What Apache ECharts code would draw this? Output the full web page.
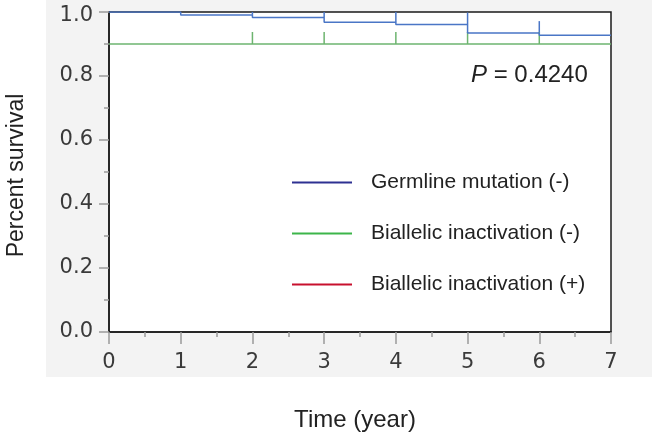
<!DOCTYPE html>
<html>
<head>
<meta charset="utf-8">
<script src="https://cdn.jsdelivr.net/npm/echarts@6/dist/echarts.min.js"></script>
<style>html,body{margin:0;padding:0;background:#fff}#c{width:652px;height:434px}</style>
</head>
<body>
<div id="c"></div>
<script>
// ---- data ----
const xTicks = [0, 1, 2, 3, 4, 5, 6, 7];
const yTicks = [0.0, 0.2, 0.4, 0.6, 0.8, 1.0];
const seriesNames = ['Germline mutation (-)', 'Biallelic inactivation (-)', 'Biallelic inactivation (+)'];
// Germline mutation (-) step curve
const germTimes = [0, 1, 2, 3, 4, 5, 6, 7];
const germValues = [1.0, 0.991, 0.983, 0.968, 0.961, 0.934, 0.927, 0.927];
const germCensorTimes = [1, 2, 3, 4, 5, 6];
const germCensorValues = [1.0, 0.991, 0.983, 0.968, 0.961, 0.934];
// Biallelic inactivation (-)
const bialNegTimes = [0, 7];
const bialNegValues = [0.9, 0.9];
const bialNegCensorTimes = [2, 3, 4, 5, 6];
const bialNegCensorValues = [0.9, 0.9, 0.9, 0.9, 0.9];
// Biallelic inactivation (+) : not visible in plot
const bialPosTimes = [];
const bialPosValues = [];
const pText = 'P = 0.4240';

const plotColors = ['#4a76c6', '#6db46f', '#c8202e'];
const legendColors = ['#2e3192', '#3cb54a', '#c8102e'];

function pairs(xs, ys) { return xs.map((x, i) => [x, ys[i]]); }

function censorSeries(name, xs, ys, color) {
  return {
    type: 'custom', name: name, clip: true, silent: true, z: 3,
    data: pairs(xs, ys),
    renderItem: function (params, api) {
      const p = api.coord([api.value(0), api.value(1)]);
      return {
        type: 'line',
        shape: { x1: p[0], y1: p[1], x2: p[0], y2: p[1] - 12 },
        style: { stroke: color, lineWidth: 1.5 }
      };
    }
  };
}

const chart = echarts.init(document.getElementById('c'), null, { renderer: 'canvas' });
const tickFont = { fontFamily: 'DejaVu Sans', fontSize: 21, color: '#3a3a3a' };
const yMax = yTicks[yTicks.length - 1];
chart.setOption({
  backgroundColor: '#ffffff',
  animation: false,
  graphic: [
    { type: 'rect', z: -100, silent: true, shape: { x: 46, y: 0, width: 606, height: 377 }, style: { fill: '#f3f3f3' } },
    { type: 'text', left: 471, top: 63, silent: true,
      style: { rich: { i: { fontStyle: 'italic', fontFamily: 'Liberation Sans', fontSize: 24, fill: '#222' }, n: { fontFamily: 'Liberation Sans', fontSize: 24, fill: '#222' } },
               text: '{i|' + pText.slice(0, 1) + '}{n|' + pText.slice(1) + '}' } }
  ],
  grid: { left: 109, right: 41, top: 12, bottom: 102, outerBoundsMode: 'none', containLabel: false,
          show: true, backgroundColor: '#ffffff', borderColor: '#1a1a1a', borderWidth: 1.5 },
  legend: {
    orient: 'vertical', left: 287, top: 167, padding: 5, icon: 'rect', itemWidth: 60, itemHeight: 2, itemGap: 30,
    selectedMode: false,
    textStyle: { fontFamily: 'Liberation Sans', fontSize: 21, lineHeight: 21, color: '#222', padding: [0, 0, 0, 14] },
    data: seriesNames.map((n, i) => ({ name: n, itemStyle: { color: legendColors[i] } }))
  },
  xAxis: {
    type: 'value', min: xTicks[0], max: xTicks[xTicks.length - 1], interval: 1,
    name: 'Time (year)', nameLocation: 'middle', nameGap: 76,
    nameTextStyle: { fontFamily: 'Liberation Sans', fontSize: 24, color: '#222', padding: [0, 10, 0, 0] },
    axisLine: { show: true, lineStyle: { color: '#1a1a1a', width: 1.5 } },
    axisTick: { show: true, length: 12, lineStyle: { color: '#9a9a9a', width: 1.5 } },
    minorTick: { show: true, splitNumber: 2, length: 5, lineStyle: { color: '#9a9a9a', width: 1.5 } },
    axisLabel: Object.assign({ margin: 20, formatter: v => String(v) }, tickFont),
    splitLine: { show: false }
  },
  yAxis: {
    type: 'value', min: yTicks[0], max: yMax, interval: 0.2,
    name: 'Percent survival', nameLocation: 'middle', nameGap: 81, nameRotate: 90,
    nameTextStyle: { fontFamily: 'Liberation Sans', fontSize: 23, color: '#222', padding: [0, 7, 0, 0] },
    axisLine: { show: true, lineStyle: { color: '#1a1a1a', width: 1.5 } },
    axisTick: { show: true, length: 10, lineStyle: { color: '#9a9a9a', width: 1.5 } },
    minorTick: { show: true, splitNumber: 2, length: 5, lineStyle: { color: '#9a9a9a', width: 1.5 } },
    axisLabel: Object.assign({
      margin: 16,
      formatter: v => (Math.abs(v - yMax) < 1e-9 ? '{top|' + v.toFixed(1) + '}' : v.toFixed(1)),
      rich: { top: { fontFamily: 'DejaVu Sans', fontSize: 21, color: '#3a3a3a', padding: [8, 0, 0, 0] } }
    }, tickFont),
    splitLine: { show: false }
  },
  series: [
    { type: 'line', name: seriesNames[0], step: 'end', symbol: 'none', clip: true, z: 4,
      color: plotColors[0], lineStyle: { width: 1.5, color: plotColors[0] }, data: pairs(germTimes, germValues) },
    { type: 'line', name: seriesNames[1], symbol: 'none', clip: true, z: 3,
      color: plotColors[1], lineStyle: { width: 1.5, color: plotColors[1] }, data: pairs(bialNegTimes, bialNegValues) },
    { type: 'line', name: seriesNames[2], symbol: 'none', clip: true, z: 2,
      color: plotColors[2], lineStyle: { width: 1.5, color: plotColors[2] }, data: pairs(bialPosTimes, bialPosValues) },
    censorSeries(seriesNames[0], germCensorTimes, germCensorValues, plotColors[0]),
    censorSeries(seriesNames[1], bialNegCensorTimes, bialNegCensorValues, plotColors[1])
  ]
});
</script>
</body>
</html>
